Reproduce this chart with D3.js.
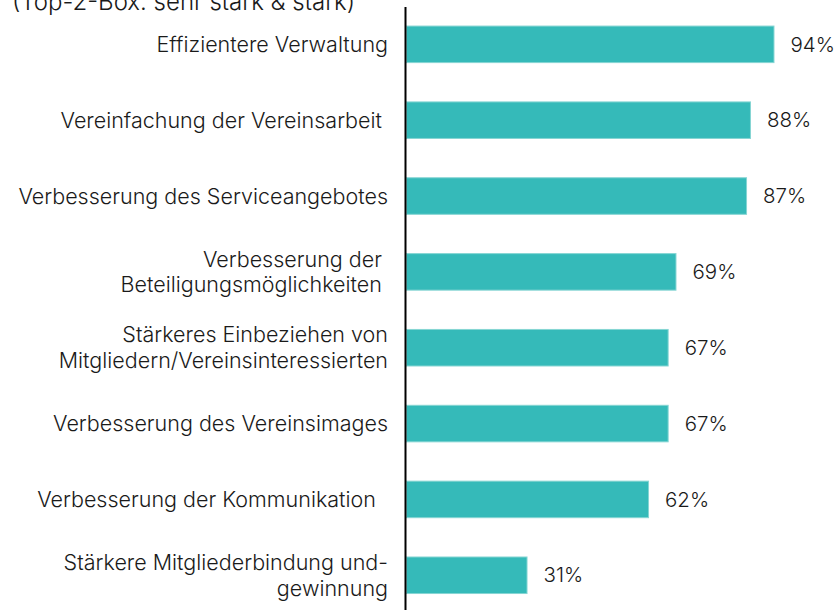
<!DOCTYPE html>
<html>
<head>
<meta charset="utf-8">
<script src="https://cdn.jsdelivr.net/npm/d3@7"></script>
<style>
  body { margin: 0; background: #fff; }
  svg text { font-family: Inter, "Noto Sans", sans-serif; font-weight: 350; fill: #1a1a1a; white-space: pre; }
</style>
</head>
<body>
<script>

// categories (line breaks as in the original labels)
var categories = [
  ["Effizientere Verwaltung"],
  ["Vereinfachung der Vereinsarbeit "],
  ["Verbesserung des Serviceangebotes"],
  ["Verbesserung der ", "Beteiligungsmöglichkeiten "],
  ["Stärkeres Einbeziehen von", "Mitgliedern/Vereinsinteressierten"],
  ["Verbesserung des Vereinsimages"],
  ["Verbesserung der Kommunikation  "],
  ["Stärkere Mitgliederbindung und-", "gewinnung"]
];
var values = [94, 88, 87, 69, 67, 67, 62, 31];
var subtitle = "(Top-2-Box: sehr stark & stark)";

var width = 838, height = 610;
var axisX = 406;
var fontSize = "21.5px";

var svg = d3.select("body").append("svg")
    .attr("width", width)
    .attr("height", height);

var keys = categories.map(function(d, i){ return "c" + i; });

var y = d3.scaleBand()
    .domain(keys)
    .range([6.6, 613])
    .paddingInner(0.505)
    .paddingOuter(0.25);

var x = d3.scaleLinear()
    .domain([0, 100])
    .range([axisX, axisX + 392]);

// subtitle, cut at the top like the original
svg.append("text")
    .attr("x", 12)
    .attr("y", 10)
    .style("font-size", "24px")
    .text(subtitle);

var rows = svg.append("g").selectAll("g")
    .data(values)
    .enter().append("g");

rows.append("rect")
    .attr("x", x(0) + 0.5)
    .attr("y", function(d, i){ return y(keys[i]) + 0.5; })
    .attr("width", function(d){ return x(d) - x(0) - 1; })
    .attr("height", y.bandwidth() - 1)
    .style("fill", "#35bab9")
    .style("stroke", "#86d5d3")
    .style("stroke-width", 1);

rows.append("text")
    .attr("x", function(d){ return x(d) + 16; })
    .attr("y", function(d, i){ return y(keys[i]) + y.bandwidth() / 2; })
    .attr("dy", "0.35em")
    .style("font-size", "20.5px")
    .text(function(d){ return d + "%"; });

// category labels
var lineH = 25.5;
rows.append("text")
    .attr("text-anchor", "end")
    .style("font-size", fontSize)
    .each(function(d, i){
      var lines = categories[i];
      var cy = y(keys[i]) + y.bandwidth() / 2;
      var t = d3.select(this);
      lines.forEach(function(l, j){
        t.append("tspan")
          .attr("x", axisX - 18)
          .attr("y", cy + (j - (lines.length - 1) / 2) * lineH)
          .attr("dy", "0.35em")
          .text(l);
      });
    });

// vertical axis line
svg.append("line")
    .attr("x1", axisX - 0.5).attr("x2", axisX - 0.5)
    .attr("y1", 7).attr("y2", height)
    .style("stroke", "#000")
    .style("stroke-width", 2);

</script>
</body>
</html>
